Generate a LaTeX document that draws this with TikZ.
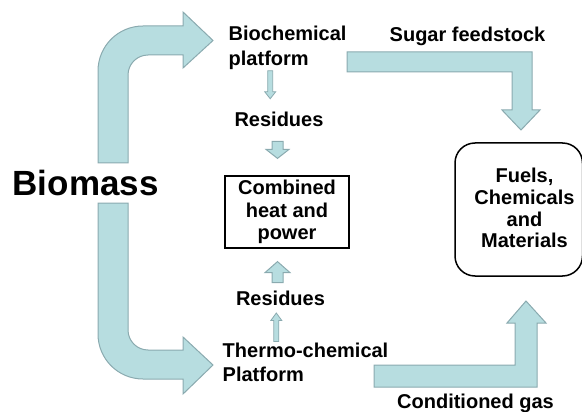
\documentclass[tikz,border=0pt]{standalone}
\usepackage{fontspec}
\setmainfont{Liberation Sans}
\usepackage{tikz}
\usetikzlibrary{calc}

\definecolor{arrowfill}{RGB}{183,221,224}
\definecolor{arrowline}{RGB}{138,170,175}

\tikzset{
  blockarrow/.style={fill=arrowfill,draw=arrowline,line width=1pt,line join=miter},
  txt/.style={font=\fontsize{20}{25}\selectfont\bfseries,inner sep=0pt},
  boxtxt/.style={font=\fontsize{20}{22.5}\selectfont\bfseries,align=center,inner sep=0pt}
}

\begin{document}
\begin{tikzpicture}[x=1pt,y=-1pt]
  \useasboundingbox (0,0) rectangle (582,412);
  % labels
  \node[font=\fontsize{35}{40}\selectfont\bfseries,inner sep=0pt,anchor=base west] (biomass) at (12.5,195) {Biomass};
  \node[txt,anchor=north west,align=left] (bio) at (228.5,25.7) {Biochemical\\platform};
  \node[txt,anchor=base west] (sugar) at (389.5,42) {Sugar feedstock};
  \node[txt,anchor=base] (res1) at (279,127) {Residues};
  \node[txt,anchor=base] (res2) at (280.5,305) {Residues};
  \node[txt,anchor=north west,align=left,font=\fontsize{20}{24}\selectfont\bfseries] (thermo) at (222.5,342.5) {Thermo-chemical\\Platform};
  \node[txt,anchor=base] (gas) at (475.5,408) {Conditioned gas};
  % boxes
  \node[boxtxt,draw,line width=1.5pt,minimum width=124pt,minimum height=72pt] (chp) at (287,212) {Combined\\heat and\\power};
  \node[draw,line width=1.5pt,rounded corners=20pt,minimum width=127.5pt,minimum height=133pt] (fuels) at (518.75,209.5) {};
  \node[boxtxt,font=\fontsize{20}{21.7}\selectfont\bfseries] (fueltxt) at (524.5,208.3) {Fuels,\\Chemicals\\and\\Materials};
  % big arrows
  \draw[blockarrow] (98,163) -- (98,71) .. controls (98,46.1) and (118.1,26) .. (143,26) -- (183,26) -- (183,12) -- (213,40.5) -- (183,68) -- (183,55) -- (148,55) .. controls (137,55) and (128,64) .. (128,75) -- (128,163) -- cycle;
  \draw[blockarrow] (98,203) -- (98,334) .. controls (98,358.9) and (118.1,379) .. (143,379) -- (183,379) -- (183,394) -- (213,365) -- (183,337) -- (183,350) -- (148,350) .. controls (137,350) and (128,341) .. (128,330) -- (128,203) -- cycle;
  \draw[blockarrow] (347,52) -- (532,52) -- (532,110) -- (540,110) -- (521,130) -- (502,110) -- (512,110) -- (512,72) -- (347,72) -- cycle;
  \draw[blockarrow] (374,387) -- (537,387) -- (537,323) -- (546,323) -- (526,301) -- (507,323) -- (515,323) -- (515,365) -- (374,365) -- cycle;
  % small arrows
  \draw[blockarrow,line width=0.8pt,shift={([xshift=-17.4pt]bio.south)}] (-2.5,1) -- (-2.5,22) -- (-5.5,22) -- (0,29) -- (5.5,22) -- (2.5,22) -- (2.5,1) -- cycle;
  \draw[blockarrow,shift={([xshift=-1.5pt]res1.south)}] (-5.5,14) -- (-5.5,22) -- (-11.5,22) -- (0,31) -- (11.5,22) -- (5.5,22) -- (5.5,14) -- cycle;
  \draw[blockarrow,shift={([xshift=-3pt]res2.north)}] (-5.5,-7.7) -- (-5.5,-17.7) -- (-12.5,-17.7) -- (0,-28.7) -- (12.5,-17.7) -- (5.5,-17.7) -- (5.5,-7.7) -- cycle;
  \draw[blockarrow,line width=0.8pt,shift={([xshift=-29.2pt]thermo.north)}] (-2.5,-1) -- (-2.5,-22) -- (-5.5,-22) -- (0,-29.5) -- (5.5,-22) -- (2.5,-22) -- (2.5,-1) -- cycle;
\end{tikzpicture}
\end{document}
